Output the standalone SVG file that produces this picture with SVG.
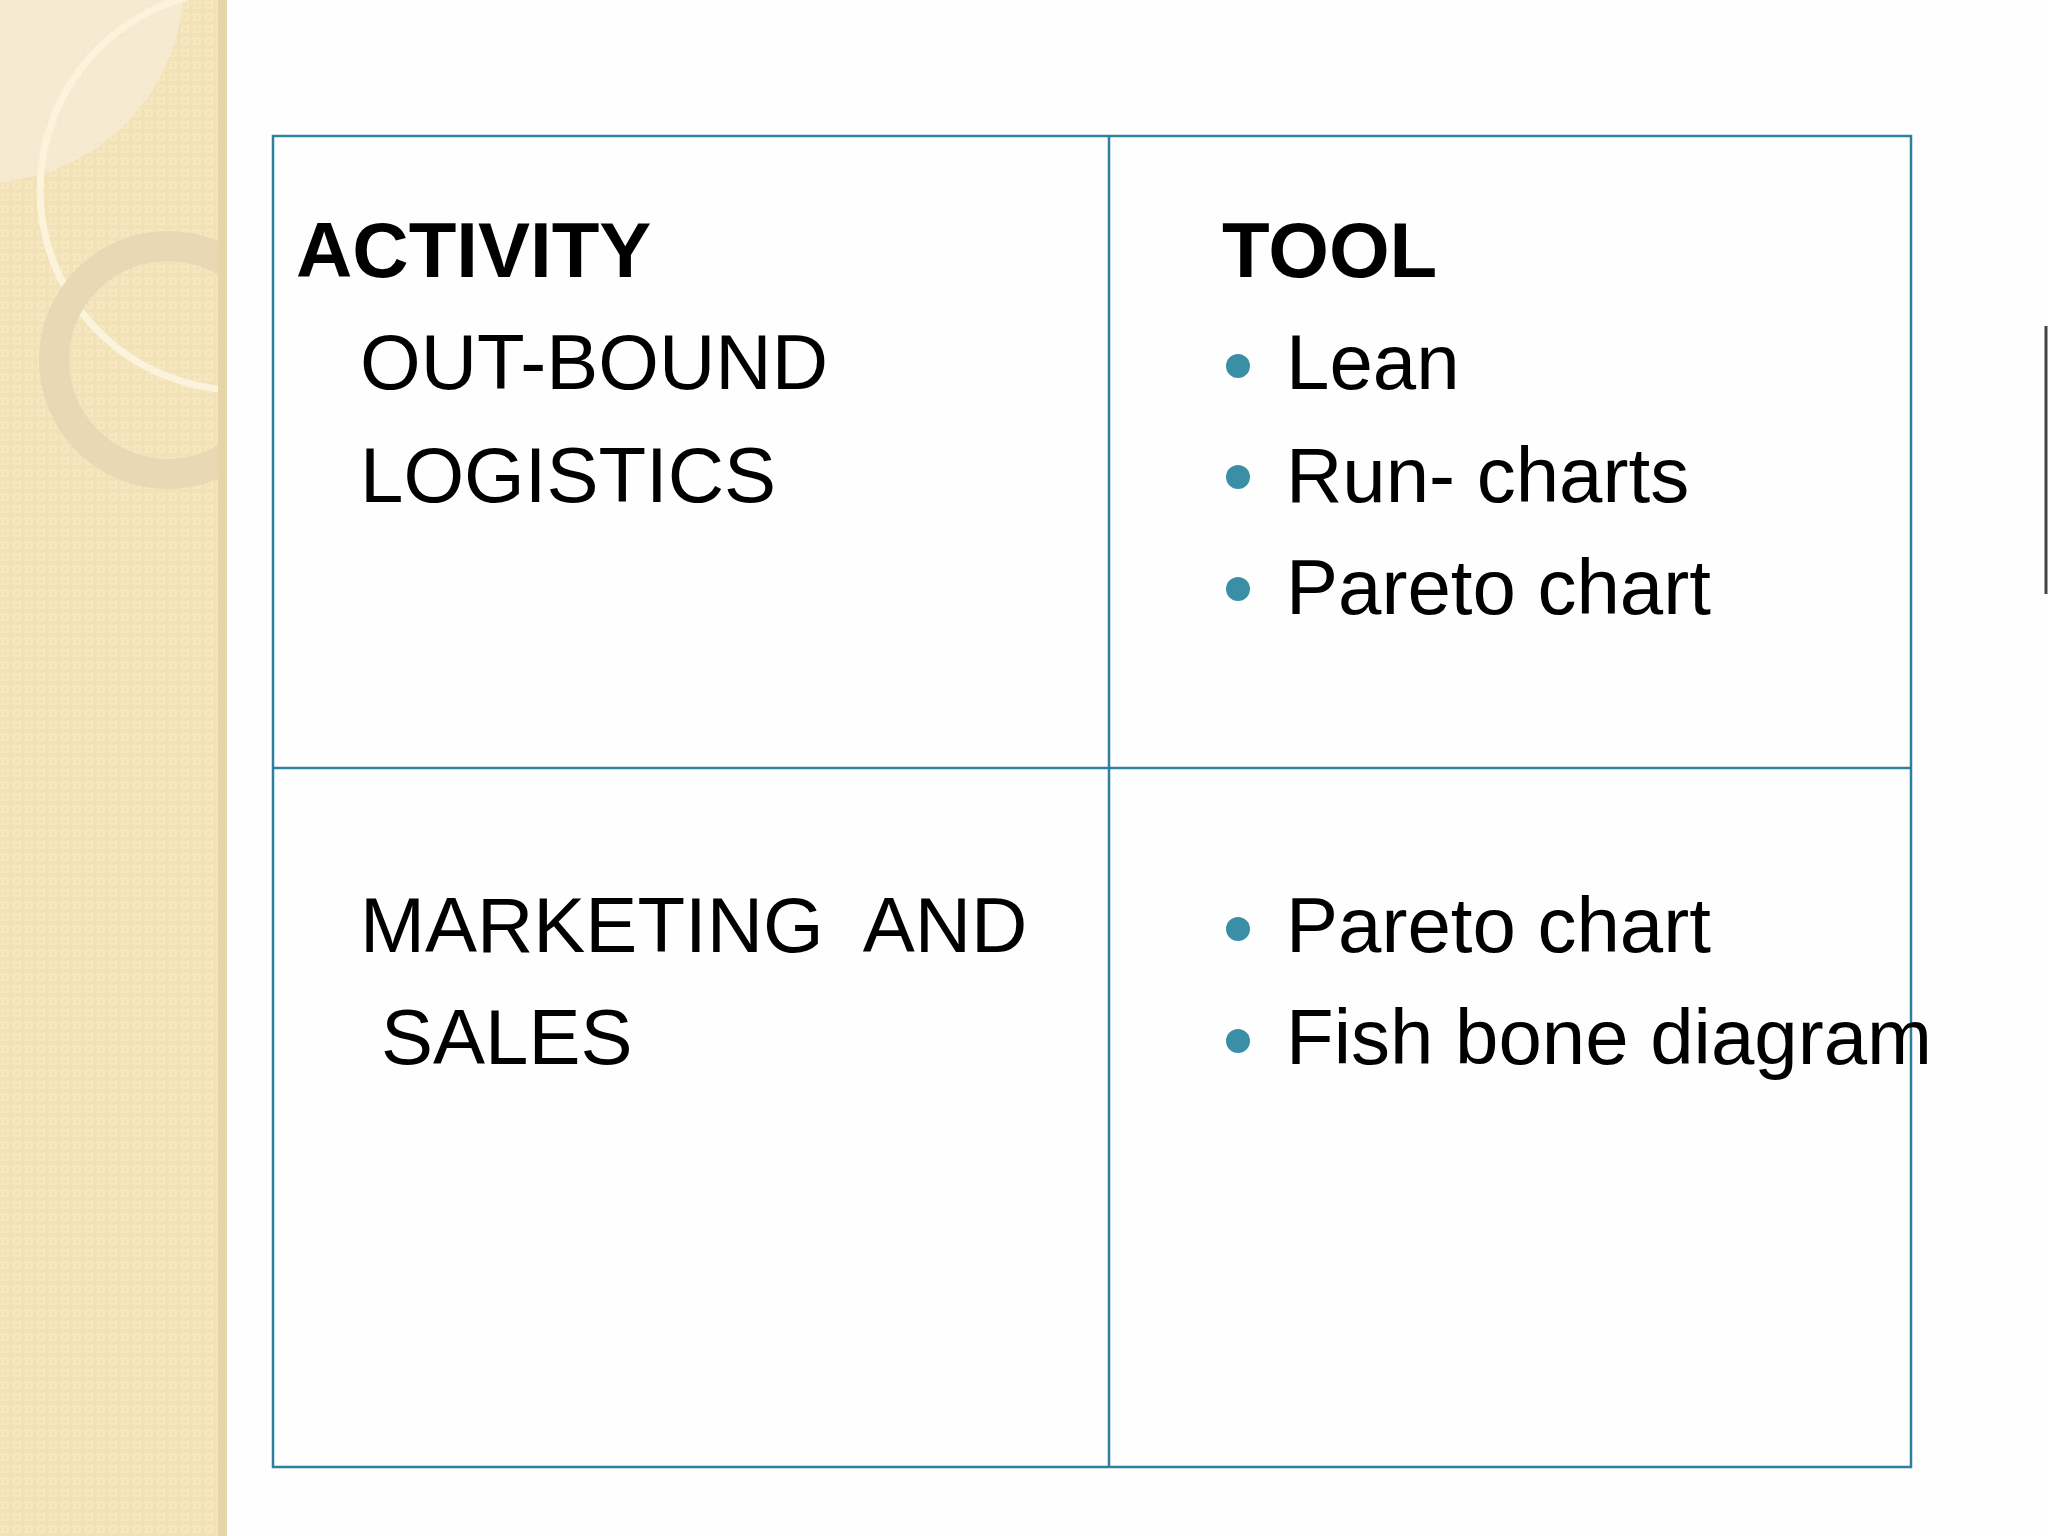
<svg xmlns="http://www.w3.org/2000/svg" width="2048" height="1536" viewBox="0 0 2048 1536">
<defs>
<pattern id="pat" width="12" height="12" patternUnits="userSpaceOnUse">
<rect width="12" height="12" fill="#f2e2b6"/>
<rect x="2" y="2" width="6" height="6" fill="none" stroke="#f7ebc9" stroke-width="1.5"/>
</pattern>
<clipPath id="strip"><rect x="0" y="0" width="227" height="1536"/></clipPath>
</defs>
<style>
.t{font-family:"Liberation Sans",Arial,sans-serif;font-size:78px;fill:#000}
.b{font-weight:bold}
.g{fill:none;stroke:#2f7f9e;stroke-width:2.5}
.dot{fill:#3a8fa6}
</style>
<rect width="2048" height="1536" fill="#fefefe"/>
<g id="background" clip-path="url(#strip)">
<rect x="0" y="0" width="227" height="1536" fill="url(#pat)"/>
<path d="M0 0 H183 A200 200 0 0 1 0 182 Z" fill="#f5ecd6" opacity="0.8"/>
<circle cx="240" cy="190" r="200" fill="none" stroke="#fbf3dc" stroke-width="7"/>
<circle cx="168" cy="360" r="114" fill="none" stroke="#e8d9b4" stroke-width="30"/>
<rect x="218" y="0" width="9" height="1536" fill="#e6d4aa"/>
</g>
<g id="table">
<rect class="g" x="273" y="136" width="1638" height="1331"/>
<line class="g" x1="1109" y1="136" x2="1109" y2="1467"/>
<line class="g" x1="273" y1="768" x2="1911" y2="768"/>
</g>
<g id="activity">
<text class="t b" x="296" y="277">ACTIVITY</text>
<text class="t" x="360" y="389">OUT-BOUND</text>
<text class="t" x="360" y="502">LOGISTICS</text>
<text class="t" x="360" y="952" xml:space="preserve">MARKETING  AND</text>
<text class="t" x="381" y="1064">SALES</text>
</g>
<g id="tool">
<text class="t b" x="1222" y="277">TOOL</text>
<circle class="dot" cx="1238" cy="366" r="12"/>
<text class="t" x="1286" y="389">Lean</text>
<circle class="dot" cx="1238" cy="477" r="12"/>
<text class="t" x="1286" y="502">Run- charts</text>
<circle class="dot" cx="1238" cy="589" r="12"/>
<text class="t" x="1286" y="614">Pareto chart</text>
<circle class="dot" cx="1238" cy="929" r="12"/>
<text class="t" x="1286" y="952">Pareto chart</text>
<circle class="dot" cx="1238" cy="1041" r="12"/>
<text class="t" x="1286" y="1064">Fish bone diagram</text>
</g>
<line x1="2046" y1="326" x2="2046" y2="594" stroke="#444" stroke-width="3"/>
</svg>
